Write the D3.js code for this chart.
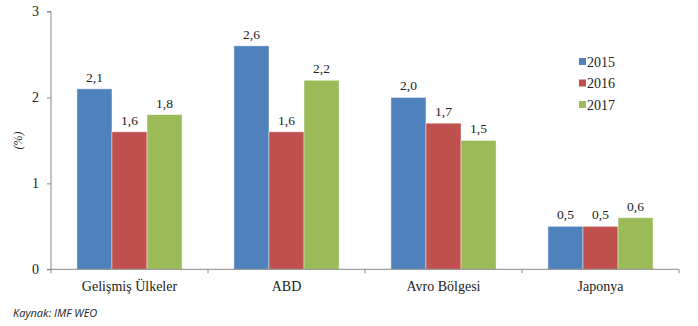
<!DOCTYPE html>
<html>
<head>
<meta charset="utf-8">
<script src="https://cdn.jsdelivr.net/npm/d3@7/dist/d3.min.js"></script>
<style>
  html, body { margin: 0; padding: 0; background: #fff; }
  svg { display: block; }
</style>
</head>
<body>
<svg id="chart" width="698" height="326"></svg>
<script>
// Growth forecasts by region (%)
const categories = ["Gelişmiş Ülkeler", "ABD", "Avro Bölgesi", "Japonya"];
const years = ["2015", "2016", "2017"];
const values2015 = [2.1, 2.6, 2.0, 0.5];
const values2016 = [1.6, 1.6, 1.7, 0.5];
const values2017 = [1.8, 2.2, 1.5, 0.6];
const yTicks = [0, 1, 2, 3];
const colors = ["#4F81BD", "#C0504D", "#9BBB59"];

const seriesValues = [values2015, values2016, values2017];

const svg = d3.select("#chart");
const margin = { left: 51, right: 19, top: 11.5, bottom: 56.7 };
const W = 698, H = 326;

const x = d3.scaleBand()
  .domain(categories)
  .range([margin.left, W - margin.right])
  .paddingInner(0)
  .paddingOuter(0);

const x1 = d3.scaleBand()
  .domain(years)
  .range([0, x.bandwidth()])
  .paddingOuter(0.74)
  .paddingInner(0);

const y = d3.scaleLinear()
  .domain([0, 3])
  .range([H - margin.bottom, margin.top]);

const serif = "'Liberation Serif', 'Times New Roman', serif";

// bars
categories.forEach((cat, ci) => {
  const g = svg.append("g").attr("transform", `translate(${x(cat)},0)`);
  years.forEach((yr, si) => {
    const v = seriesValues[si][ci];
    g.append("rect")
      .attr("x", x1(yr))
      .attr("y", y(v))
      .attr("width", x1.bandwidth())
      .attr("height", y(0) - y(v))
      .attr("fill", colors[si])
      .attr("stroke", "rgba(255,255,255,0.55)")
      .attr("stroke-width", 0.8);
    g.append("text")
      .attr("x", x1(yr) + x1.bandwidth() / 2)
      .attr("y", y(v) - 7)
      .attr("text-anchor", "middle")
      .attr("font-family", serif)
      .attr("font-size", 13.5)
      .attr("fill", "#222")
      .text(d3.format(".1f")(v).replace(".", ","));
  });
});

// y axis
const yAxis = d3.axisLeft(y)
  .tickValues(yTicks)
  .tickSize(4)
  .tickPadding(8)
  .tickFormat(d3.format("d"));
const ya = svg.append("g")
  .attr("transform", `translate(${margin.left},0)`)
  .call(yAxis);
ya.select(".domain").attr("stroke", "#888").attr("d", `M-4,${y(3)}H0V${y(0)}`);
ya.selectAll(".tick line").attr("stroke", "#888");
ya.selectAll(".tick text")
  .attr("font-family", serif)
  .attr("font-size", 14)
  .attr("fill", "#222");

// x axis
const xa = svg.append("g")
  .attr("transform", `translate(0,${y(0)})`);
xa.append("line")
  .attr("x1", margin.left - 4).attr("x2", W - margin.right)
  .attr("y1", 0).attr("y2", 0)
  .attr("stroke", "#888");
const tickXs = categories.map(c => x(c)).concat([x(categories[categories.length - 1]) + x.bandwidth()]);
xa.selectAll(".xt").data(tickXs).enter().append("line")
  .attr("x1", d => d).attr("x2", d => d)
  .attr("y1", 0).attr("y2", 4)
  .attr("stroke", "#888");
xa.selectAll(".xl").data(categories).enter().append("text")
  .attr("x", d => x(d) + x.bandwidth() / 2)
  .attr("y", 22)
  .attr("text-anchor", "middle")
  .attr("font-family", serif)
  .attr("font-size", 14)
  .attr("fill", "#222")
  .text(d => d);

// y axis title
svg.append("text")
  .attr("transform", `translate(22,${(y(0) + y(3)) / 2}) rotate(-90)`)
  .attr("text-anchor", "middle")
  .attr("font-family", serif)
  .attr("font-style", "italic")
  .attr("font-size", 12)
  .attr("fill", "#222")
  .text("(%)");

// legend
const legend = svg.append("g").attr("transform", "translate(579,0)");
years.forEach((yr, i) => {
  const cy = 61.5 + i * 21.5;
  legend.append("rect")
    .attr("x", 0).attr("y", cy - 3.5)
    .attr("width", 7).attr("height", 7)
    .attr("fill", colors[i]);
  legend.append("text")
    .attr("x", 8).attr("y", cy + 5)
    .attr("font-family", serif)
    .attr("font-size", 14)
    .attr("fill", "#222")
    .text(yr);
});

// source note
svg.append("text")
  .attr("x", 13).attr("y", 317)
  .attr("font-family", "'Open Sans', 'Liberation Sans', sans-serif")
  .attr("font-style", "italic")
  .attr("font-size", 11)
  .attr("fill", "#222")
  .text("Kaynak: IMF WEO");
</script>
</body>
</html>
